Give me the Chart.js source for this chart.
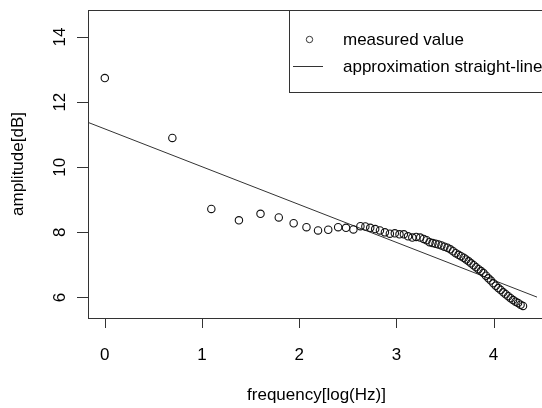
<!DOCTYPE html>
<html>
<head>
<meta charset="utf-8">
<script src="https://cdn.jsdelivr.net/npm/chart.js@4"></script>
<style>
  html, body { margin: 0; padding: 0; background: #fff; }
  #wrap { width: 542px; height: 408px; }
</style>
</head>
<body>
<div id="wrap"><canvas id="ampChart" width="542" height="408"></canvas></div>
<script>
// measured points: log10 frequency vs amplitude in dB
const freqLog = [0, 0.695, 1.096, 1.380, 1.602, 1.790, 1.943, 2.075, 2.194, 2.299,
    2.401, 2.482, 2.558, 2.630, 2.681, 2.731, 2.782, 2.831, 2.882, 2.933,
    2.984, 3.032, 3.077, 3.120, 3.164, 3.204, 3.245, 3.281, 3.311, 3.342,
    3.372, 3.403, 3.433, 3.464, 3.494, 3.525, 3.555, 3.584, 3.611, 3.639,
    3.665, 3.693, 3.718, 3.744, 3.769, 3.795, 3.820, 3.845, 3.871, 3.896,
    3.922, 3.947, 3.972, 3.998, 4.023, 4.049, 4.074, 4.100, 4.125, 4.151,
    4.176, 4.201, 4.227, 4.252, 4.278, 4.303];
const amplitude = [12.74, 10.90, 8.72, 8.37, 8.57, 8.46, 8.28, 8.16, 8.06, 8.08,
    8.16, 8.14, 8.09, 8.19, 8.18, 8.14, 8.10, 8.06, 8.00, 7.96,
    7.97, 7.94, 7.94, 7.88, 7.84, 7.86, 7.84, 7.80, 7.76, 7.70,
    7.67, 7.65, 7.63, 7.60, 7.56, 7.53, 7.48, 7.42, 7.36, 7.31,
    7.27, 7.22, 7.17, 7.11, 7.05, 6.99, 6.93, 6.87, 6.81, 6.75,
    6.67, 6.59, 6.52, 6.44, 6.36, 6.29, 6.23, 6.16, 6.10, 6.04,
    5.98, 5.92, 5.87, 5.83, 5.78, 5.74];

// approximation straight line (two end points, clipped by the plot box)
const lineX = [-0.2, 4.5];
const lineY = [11.41, 5.95];

const xTicks = [0, 1, 2, 3, 4];
const yTicks = [6, 8, 10, 12, 14];
const legendLabels = ['measured value', 'approximation straight-line'];

const FONT = '17px "Liberation Sans", Arial, sans-serif';
const INK = '#333';

// R style frame, axes, labels and legend
const rStylePlugin = {
    id: 'rStyle',
    afterDraw(chart) {
        const c = chart.ctx;
        const area = chart.chartArea;
        const xs = chart.scales.x;
        const ys = chart.scales.y;

        c.save();
        c.strokeStyle = INK;
        c.lineWidth = 1;
        c.fillStyle = '#000';
        c.font = FONT;

        // box (right side runs past the canvas edge)
        c.strokeRect(area.left + 0.5, area.top + 0.5, area.right - area.left + 10, area.bottom - area.top);

        // x axis ticks and labels
        c.beginPath();
        xTicks.forEach(t => {
            const px = Math.round(xs.getPixelForValue(t)) + 0.5;
            c.moveTo(px, area.bottom);
            c.lineTo(px, area.bottom + 10);
        });
        c.stroke();
        c.textAlign = 'center';
        c.textBaseline = 'alphabetic';
        xTicks.forEach(t => {
            c.fillText(String(t), xs.getPixelForValue(t), 360);
        });

        // y axis ticks and rotated labels
        c.beginPath();
        yTicks.forEach(t => {
            const py = Math.round(ys.getPixelForValue(t)) + 0.5;
            c.moveTo(area.left, py);
            c.lineTo(area.left - 11, py);
        });
        c.stroke();
        yTicks.forEach(t => {
            c.save();
            c.translate(65, ys.getPixelForValue(t));
            c.rotate(-Math.PI / 2);
            c.fillText(String(t), 0, 0);
            c.restore();
        });

        // axis titles
        c.fillText('frequency[log(Hz)]', (area.left + 545) / 2, 400);
        c.save();
        c.translate(23, (area.top + area.bottom) / 2);
        c.rotate(-Math.PI / 2);
        c.fillText('amplitude[dB]', 0, 0);
        c.restore();

        // legend
        c.strokeRect(289.5, area.top + 0.5, 300, 82);
        c.beginPath();
        c.arc(309.5, 39.5, 3.2, 0, Math.PI * 2);
        c.stroke();
        c.beginPath();
        c.moveTo(293, 66.5);
        c.lineTo(323, 66.5);
        c.stroke();
        c.textAlign = 'left';
        c.textBaseline = 'middle';
        c.fillText(legendLabels[0], 343, 40);
        c.fillText(legendLabels[1], 343, 67);

        c.restore();
    }
};

const ctx = document.getElementById('ampChart').getContext('2d');

new Chart(ctx, {
    type: 'scatter',
    data: {
        datasets: [{
            label: legendLabels[0],
            data: freqLog.map((x, i) => ({ x: x, y: amplitude[i] })),
            pointStyle: 'circle',
            pointRadius: 3.7,
            pointBorderWidth: 1.1,
            pointBorderColor: '#111',
            pointBackgroundColor: 'rgba(0,0,0,0)',
            showLine: false
        }, {
            label: legendLabels[1],
            data: lineX.map((x, i) => ({ x: x, y: lineY[i] })),
            showLine: true,
            borderColor: INK,
            borderWidth: 1,
            pointRadius: 0
        }]
    },
    options: {
        responsive: false,
        animation: false,
        devicePixelRatio: 1,
        layout: {
            padding: { left: 88, top: 10, right: 0, bottom: 90 }
        },
        plugins: {
            legend: { display: false },
            tooltip: { enabled: false }
        },
        scales: {
            x: { type: 'linear', display: false, min: -0.173, max: 4.446 },
            y: { type: 'linear', display: false, min: 5.37, max: 14.83 }
        }
    },
    plugins: [rStylePlugin]
});
</script>
</body>
</html>
